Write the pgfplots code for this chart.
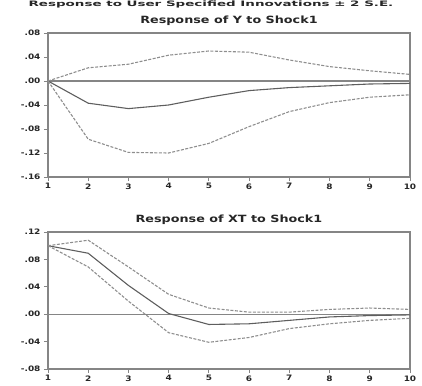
\documentclass[border=0pt]{standalone}
\usepackage{pgfplots}
\pgfplotsset{compat=1.18}
\usepackage{fontspec}
\setmainfont{DejaVu Sans}
\definecolor{ln}{HTML}{5E5E5E}
\definecolor{dl}{HTML}{8E8E8E}
\definecolor{fr}{HTML}{858585}
\pgfplotstableread{
x  c       u      l
1  0.000   0.000  0.000
2  -0.037  0.022  -0.097
3  -0.046  0.028  -0.119
4  -0.040  0.043  -0.120
5  -0.027  0.050  -0.104
6  -0.016  0.048  -0.076
7  -0.011  0.035  -0.051
8  -0.008  0.024  -0.036
9  -0.005  0.017  -0.027
10 -0.004  0.011  -0.023
}\ytab
\pgfplotstableread{
x  c       u      l
1  0.100   0.100  0.100
2  0.089   0.108  0.069
3  0.042   0.069  0.019
4  0.001   0.029  -0.027
5  -0.015  0.009  -0.041
6  -0.014  0.003  -0.034
7  -0.009  0.003  -0.021
8  -0.004  0.007  -0.014
9  -0.002  0.009  -0.009
10 -0.001  0.007  -0.006
}\xtab
\newcommand{\tl}[1]{\scalebox{1.2}[1]{#1}}
\pgfplotsset{
  every axis/.style={
    scale only axis, width=362bp, xmin=1, xmax=10, xtick={1,...,10},
    xticklabels={\tl{1},\tl{2},\tl{3},\tl{4},\tl{5},\tl{6},\tl{7},\tl{8},\tl{9},\tl{10}},
    axis line style={fr, line width=1.3pt},
    tick style={fr, line width=0.9pt},
    tick align=outside, tick pos=left,
    major tick length=4bp,
    ticklabel style={font=\bfseries\fontsize{7.5}{8}\selectfont, text=black!85},
    xticklabel style={yshift=1bp},
    /pgf/number format/assume math mode=true,
    title style={font=\bfseries\fontsize{10}{11}\selectfont, text=black!85, yshift=-2bp},
    clip=false,
  },
}
\begin{document}
\begin{tikzpicture}
\path[use as bounding box] (0,0) rectangle (422bp,-386bp);
\node[font=\bfseries\fontsize{7.5}{8}\selectfont, text=black!85, anchor=north, inner sep=0pt] at (211bp,-1bp) {\scalebox{1.8}[1]{Response to User Specified Innovations ± 2 S.E.}};
\begin{axis}[at={(48bp,-33bp)}, anchor=north west, height=144bp,
  ymin=-0.16, ymax=0.08, ytick={-0.16,-0.12,-0.08,-0.04,0,0.04,0.08},
  yticklabels={\tl{-.16},\tl{-.12},\tl{-.08},\tl{-.04},\tl{.00},\tl{.04},\tl{.08}},
  title={\scalebox{1.28}[1]{Response of Y to Shock1}}]
\addplot[fr, line width=1.1pt] coordinates {(1,0) (10,0)};
\addplot[ln, line width=1.1pt] table[x=x,y=c] {\ytab};
\addplot[dl, line width=1.1pt, dash pattern=on 3pt off 1.5pt] table[x=x,y=u] {\ytab};
\addplot[dl, line width=1.1pt, dash pattern=on 3pt off 1.5pt] table[x=x,y=l] {\ytab};
\end{axis}
\begin{axis}[at={(48bp,-232bp)}, anchor=north west, height=137bp,
  ymin=-0.08, ymax=0.12, ytick={-0.08,-0.04,0,0.04,0.08,0.12},
  yticklabels={\tl{-.08},\tl{-.04},\tl{.00},\tl{.04},\tl{.08},\tl{.12}},
  title={\scalebox{1.28}[1]{Response of XT to Shock1}}]
\addplot[fr, line width=1.1pt] coordinates {(1,0) (10,0)};
\addplot[ln, line width=1.1pt] table[x=x,y=c] {\xtab};
\addplot[dl, line width=1.1pt, dash pattern=on 3pt off 1.5pt] table[x=x,y=u] {\xtab};
\addplot[dl, line width=1.1pt, dash pattern=on 3pt off 1.5pt] table[x=x,y=l] {\xtab};
\end{axis}
\end{tikzpicture}
\end{document}
